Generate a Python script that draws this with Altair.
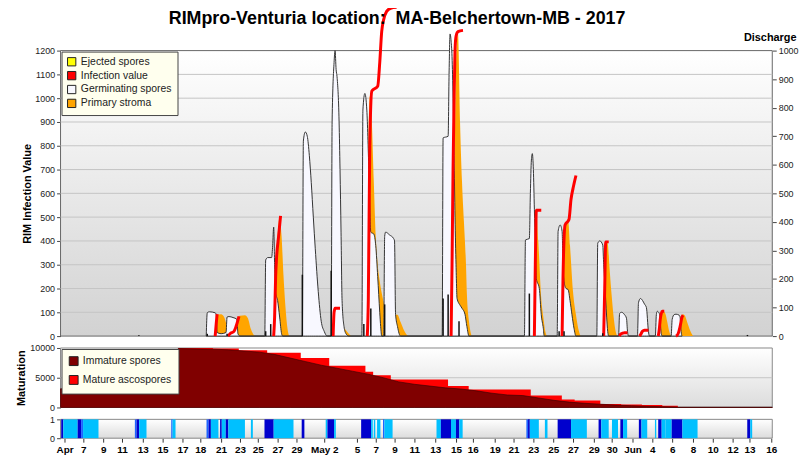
import json
import altair as alt
import pandas as pd

FONT = "Liberation Sans"
W = 718
H_MAIN, H_MAT, H_STRIP = 288, 60, 19
X_MAX = 76.5

# ---------------- main panel data (x = days since start of season) ----------------
germ_day = [15.66, 15.77, 15.98, 16.62, 16.73, 16.83, 17.26, 17.79, 17.90, 18.11, 18.54, 18.96, 19.07, 19.28,
            21.95, 22.05, 22.27, 22.69, 22.80, 22.91, 23.01, 23.12, 23.33, 23.55, 23.76, 23.87,
            25.99, 26.10, 26.31, 26.52, 26.74, 26.95, 27.17, 27.38, 27.70, 28.02, 28.34, 28.66,
            29.09, 29.19, 29.40, 29.51, 29.62, 29.72, 29.94, 30.04, 30.15, 30.26, 30.47, 30.68, 31.00,
            32.39, 32.50, 32.71, 32.92, 33.14, 33.35, 33.67, 33.88, 34.09, 34.31, 34.41, 34.52,
            34.73, 34.84, 34.94, 35.37, 35.80, 35.90, 36.01, 36.22, 36.54,
            41.02, 41.12, 41.66, 41.76, 41.87, 41.98, 42.08, 42.19, 42.30, 42.40, 42.51, 42.62, 42.94, 43.15, 43.47, 43.68, 43.90,
            49.86, 49.97, 50.39, 50.50, 50.61, 50.71, 50.82, 50.93, 51.03, 51.14, 51.46, 51.67, 51.89, 51.99,
            53.38, 53.48, 53.70, 53.91, 54.01, 54.12, 54.33, 54.55, 54.76, 54.97, 55.19, 55.40,
            57.64, 57.74, 57.96, 58.28, 58.38, 58.49, 58.70, 58.81, 58.92,
            59.98, 60.09, 60.30, 60.62, 60.83, 60.94, 61.05,
            62.01, 62.12, 62.33, 62.55, 62.76, 62.97, 63.19, 63.29,
            63.93, 64.04, 64.14, 64.36, 64.46, 64.57, 64.68,
            65.63, 65.74, 65.95, 66.16, 66.48, 66.59, 66.70, 66.80]
germ_val = [0, 98, 102, 98, 90, 15, 10, 15, 80, 82, 78, 70, 10, 0,
            0, 320, 330, 330, 380, 458, 300, 180, 150, 80, 10, 0,
            0, 820, 858, 840, 760, 645, 500, 367, 187, 62, 20, 0,
            0, 900, 1150, 1200, 1120, 1090, 900, 700, 437, 150, 40, 10, 0,
            0, 950, 1020, 950, 700, 437, 429, 380, 250, 100, 40, 0,
            0, 420, 437, 425, 410, 400, 92, 40, 0,
            0, 833, 840, 1100, 1270, 1240, 1175, 1000, 758, 500, 300, 158, 130, 117, 92, 40, 0,
            0, 404, 410, 600, 740, 767, 700, 533, 380, 242, 200, 90, 33, 0,
            0, 440, 467, 440, 300, 229, 200, 196, 150, 90, 33, 0,
            0, 390, 400, 383, 300, 229, 80, 20, 0,
            0, 95, 100, 90, 75, 20, 0,
            0, 140, 158, 150, 135, 120, 20, 0,
            0, 90, 104, 95, 60, 10, 0,
            0, 70, 90, 92, 88, 80, 20, 0]

stroma_day = [16.62, 16.73, 17.26, 17.58, 17.90, 18.22, 18.43, 18.86, 18.96, 19.28, 19.82, 20.14, 20.46, 20.78, 20.99,
              23.01, 23.12, 23.33, 23.55, 23.76, 23.97, 24.18, 24.40, 24.61,
              30.04, 30.15, 30.36, 30.68, 31.11, 31.32,
              32.92, 33.03, 33.24, 33.46, 33.67, 33.88, 34.09, 34.31, 34.63, 34.94, 35.37, 35.80, 36.22, 36.54, 36.97, 37.40,
              42.30, 42.40, 42.62, 42.72, 42.94, 43.15, 43.36, 43.58, 43.68, 43.90, 44.11, 44.21,
              50.93, 51.03, 51.14, 51.35, 51.67, 51.89, 52.10, 52.31,
              54.01, 54.12, 54.33, 54.55, 54.76, 55.08, 55.40, 55.72, 55.93,
              58.49, 58.60, 58.81, 59.02, 59.24, 59.45, 59.66, 59.88,
              64.46, 64.57, 64.78, 65.00, 65.21, 65.42, 65.64,
              66.59, 66.70, 66.91, 67.12, 67.34, 67.66, 67.98]
stroma_val = [0, 88, 92, 80, 40, 5, 0, 0, 70, 85, 88, 75, 30, 5, 0,
              0, 300, 420, 500, 420, 250, 120, 30, 0,
              0, 60, 40, 25, 5, 0,
              0, 600, 1008, 900, 650, 420, 300, 230, 160, 110, 95, 90, 90, 60, 20, 0,
              0, 700, 1250, 1270, 900, 650, 480, 300, 175, 62, 10, 0,
              0, 450, 529, 400, 158, 80, 20, 0,
              0, 350, 470, 492, 380, 188, 90, 20, 0,
              0, 396, 390, 280, 170, 80, 20, 0,
              0, 90, 104, 95, 60, 20, 0,
              0, 80, 92, 85, 60, 25, 0]

infect_day = [16.62, 16.73, 16.83,
              18.00, 18.22, 18.64, 18.86, 19.18,
              22.91, 23.01, 23.12, 23.22, 23.44, 23.65,
              29.30, 29.40, 29.51, 30.04,
              32.97, 33.08, 33.24, 33.46, 34.09, 34.31, 34.52, 34.73, 35.05, 35.48, 36.12,
              41.98, 42.08, 42.19, 42.30, 42.40, 42.51, 42.72, 43.26,
              50.93, 51.03, 51.14, 51.67,
              53.91, 54.01, 54.23, 54.65, 54.87, 55.08, 55.19, 55.40,
              58.38, 58.49, 58.60, 58.92,
              60.09, 60.19, 60.41, 60.62, 60.94,
              62.23, 62.33, 62.55, 62.76, 63.19,
              64.25, 64.36, 64.46, 64.57, 64.68, 64.89,
              66.16, 66.38, 66.59, 66.80, 66.91]
infect_val = [0, 50, 92,
              0, 10, 20, 40, 83,
              0, 80, 250, 330, 420, 505,
              0, 100, 117, 117,
              0, 150, 800, 1030, 1050, 1150, 1280, 1330, 1365, 1378, 1382,
              0, 300, 700, 1000, 1200, 1260, 1280, 1285,
              0, 300, 529, 529,
              0, 250, 467, 490, 575, 620, 640, 675,
              0, 200, 396, 396,
              0, 8, 12, 14, 14,
              0, 5, 20, 25, 25,
              0, 30, 70, 95, 104, 104,
              0, 10, 40, 80, 88]
infect_seg = [1] * 3 + [2] * 5 + [3] * 6 + [4] * 4 + [5] * 11 + [6] * 8 + [7] * 4 + [8] * 8 + \
             [9] * 4 + [10] * 5 + [11] * 5 + [12] * 6 + [13] * 5

eject_day = [8.42, 15.77, 17.90, 22.05, 22.59, 25.99, 29.09, 32.60, 33.35, 34.84, 41.12, 41.66, 42.83,
             50.39, 53.59, 54.12, 58.28, 73.83]
eject_val = [3, 8, 8, 17, 42, 215, 229, 42, 97, 111, 132, 146, 52, 149, 17, 17, 10, 4]

series_names = ["Ejected spores", "Infection value", "Germinating spores", "Primary stroma"]
series_colors = ["#ffff00", "#ff0000", "#f8f8ff", "#ffa500"]

# ---------------- maturation panel ----------------
imm_day = [0, 12.64, 12.65, 16.38, 18.04, 19.71, 21.37, 23.04, 24.71, 26.37, 28.04, 29.70, 31.36, 33.04,
           34.70, 36.36, 38.03, 39.70, 41.36, 43.03, 44.69, 46.36, 48.03, 49.69, 51.36, 53.03, 54.69,
           56.36, 58.02, 59.69, 61.36, 63.02, 64.68, 66.35, 76.5]
imm_val = [3150, 3150, 9900, 9800, 9700, 9500, 9300, 8900, 8300, 7700, 7100, 6600, 6100, 5600,
           5000, 4300, 3900, 3600, 3300, 3100, 2800, 2400, 2100, 2000, 1600, 1200, 900,
           700, 550, 400, 300, 200, 130, 70, 70]
tot_day = [0, 12.65, 16.38, 19.16, 22.21, 25.82, 28.88, 32.77, 33.60, 35.50, 41.65, 43.87, 50.54,
           53.88, 55.26, 58.02, 60.26, 62.49, 64.68, 66.35, 76.5]
tot_val = [3150, 10000, 9900, 9600, 9200, 8300, 7000, 6000, 5400, 4700, 3600, 3000, 2000,
           1350, 1150, 600, 500, 400, 280, 70, 70]

# ---------------- wetness strip ----------------
strip_start = [0.07, 0.29, 1.84, 2.21, 2.42, 7.99, 8.17, 8.45, 11.90, 12.04, 15.69, 15.91, 16.16, 17.15, 17.33,
               17.76, 18.04, 20.46, 21.92, 22.91, 25.92, 28.50, 28.69, 29.40, 32.31, 33.38, 33.67, 34.02,
               34.66, 34.81, 40.41, 40.88, 41.97, 42.50, 42.86, 50.07, 50.25, 50.44, 52.06, 53.43, 54.87,
               57.83, 58.12, 59.27, 60.17, 60.46, 62.16, 62.44, 63.89, 64.24, 64.61, 65.04, 65.69, 66.84,
               73.81, 74.13]
strip_end = [0.29, 1.84, 2.21, 2.42, 4.08, 8.17, 8.45, 9.24, 12.04, 12.36, 15.91, 16.16, 16.97, 17.33, 17.76,
             18.04, 19.82, 20.67, 22.91, 25.04, 26.21, 28.69, 29.40, 29.59, 33.38, 33.56, 33.83, 34.38,
             34.81, 35.69, 40.88, 41.97, 42.50, 42.86, 43.22, 50.25, 50.44, 51.41, 52.34, 54.87, 56.57,
             58.12, 58.92, 59.92, 60.46, 60.90, 62.44, 63.06, 64.03, 64.61, 65.04, 65.69, 66.84, 68.47,
             74.13, 74.34]
strip_kind = ["dark", "light", "dark", "medium", "light", "medium", "dark", "light", "medium", "light",
              "medium", "dark", "light", "dark", "light", "dark", "light", "light", "dark", "light",
              "dark", "light", "dark", "light", "dark", "light", "light", "light", "medium", "light",
              "light", "dark", "light", "dark", "light", "medium", "dark", "light", "light", "dark",
              "light", "dark", "light", "light", "dark", "light", "dark", "light", "light", "dark",
              "light", "light", "dark", "light", "dark", "light"]

tick_labels = ["Apr", "7", "9", "11", "13", "15", "17", "18", "21", "23", "25", "27", "29", "May 2",
               "5", "7", "9", "11", "13", "15", "16", "19", "21", "23", "25", "27", "29", "30", "Jun",
               "4", "6", "8", "10", "12", "13", "16"]
tick_pos = [0.43, 2.45, 4.58, 6.61, 8.84, 10.97, 13.10, 15.02, 17.26, 19.28, 21.20, 23.33, 25.36, 28.34,
            31.86, 33.88, 35.90, 38.03, 40.27, 42.51, 44.32, 46.66, 48.69, 50.82, 52.95, 55.08, 57.32,
            59.24, 61.48, 63.61, 65.74, 67.98, 70.11, 72.24, 74.05, 76.39]

# ---------------- frames ----------------
df_germ = pd.DataFrame({"day": germ_day, "val": germ_val, "series": "Germinating spores"})
df_strom = pd.DataFrame({"day": stroma_day, "val": stroma_val, "series": "Primary stroma"})
df_inf = pd.DataFrame({"day": infect_day, "val": infect_val, "seg": infect_seg})
df_ej = pd.DataFrame({"day": eject_day, "val": eject_val})
df_imm = pd.DataFrame({"day": imm_day, "val": imm_val, "series": "Immature spores"})
df_tot = pd.DataFrame({"day": tot_day, "val": tot_val, "series": "Mature ascospores"})
df_strip = pd.DataFrame({"s": strip_start, "e": strip_end, "kind": strip_kind, "lo": 0, "hi": 1})
one = pd.DataFrame({"k": [0]})

xsc = alt.Scale(domain=[0, X_MAX], nice=False, zero=False)
xm = alt.X("day:Q", scale=xsc, axis=None)


def grad(bottom):
    return {"gradient": "linear", "x1": 0, "y1": 0, "x2": 0, "y2": 1,
            "stops": [{"offset": 0, "color": "#ffffff"}, {"offset": 1, "color": bottom}]}


def bg(h, bottom, stroke):
    return alt.Chart(one).mark_rect(fill=grad(bottom), stroke=stroke, strokeWidth=1).encode(
        x=alt.value(0), x2=alt.value(W), y=alt.value(0), y2=alt.value(h))


lab = dict(labelFont=FONT, labelFontSize=9, labelColor="#222", tickColor="#444", tickSize=4,
           labelPadding=2, domain=False, grid=False)
ttl = dict(titleFont=FONT, titleFontSize=11, titleFontWeight="bold", titleColor="#000")

ysc = alt.Scale(domain=[0, 1200], nice=False)
yax = alt.Axis(values=list(range(0, 1201, 100)), format="d", title="RIM Infection Value",
               titlePadding=2, **lab, **ttl)


def yl(f):
    return alt.Y(f, type="quantitative", scale=ysc, axis=yax)


leg_main = alt.Legend(orient="none", legendX=1, legendY=1, title=None, fillColor="#ffffee",
                      strokeColor="#444", padding=5, symbolType="square", symbolSize=70,
                      symbolStrokeColor="#222", symbolStrokeWidth=1, labelFont=FONT, labelFontSize=10.5,
                      labelColor="#222", rowPadding=1)
col = alt.Color("series:N", scale=alt.Scale(domain=series_names, range=series_colors), legend=leg_main)

grid = alt.Chart(pd.DataFrame({"g": list(range(100, 1200, 100))})).mark_rule(
    color="#c4c4c4", strokeWidth=1).encode(y=yl("g"))
stroma = alt.Chart(df_strom).mark_area(interpolate="monotone").encode(x=xm, y=yl("val"), color=col)
germ = alt.Chart(df_germ).mark_area(interpolate="monotone", stroke="#333", strokeWidth=1).encode(
    x=xm, y=yl("val"), color=col)
red = alt.Chart(df_inf).mark_line(color="#ff0000", strokeWidth=3, interpolate="monotone").encode(
    x=xm, y=yl("val"), detail="seg:N")
left = alt.layer(bg(H_MAIN, "#d2d2d2", "#666"), grid, stroma, germ, red)

rax = alt.Axis(orient="right", values=list(range(0, 1001, 100)), format="d", title="Discharge",
               titleAngle=0, titleAlign="right", titleBaseline="bottom", titleX=24, titleY=-8,
               **lab, **ttl)
spikes = alt.Chart(df_ej).mark_rule(color="#111", strokeWidth=1.5).encode(
    x=xm, y=alt.Y("val:Q", scale=alt.Scale(domain=[0, 1000], nice=False), axis=rax), y2=alt.datum(0))

main = alt.layer(left, spikes).resolve_scale(y="independent").properties(width=W, height=H_MAIN)

# maturation
msc = alt.Scale(domain=[0, 10000], nice=False)
max_ = alt.Axis(values=[0, 5000, 10000], format="d", title="Maturation", titlePadding=3, **lab, **ttl)
leg_mat = alt.Legend(orient="none", legendX=1, legendY=1, title=None, fillColor="#ffffee",
                     strokeColor="#444", padding=7, symbolType="square", symbolSize=80,
                     symbolStrokeColor="#222", symbolStrokeWidth=1, labelFont=FONT, labelFontSize=10.5,
                     labelColor="#222", rowPadding=5)
mcol = alt.Color("series:N", scale=alt.Scale(domain=["Immature spores", "Mature ascospores"],
                                             range=["#800000", "#ff0000"]), legend=leg_mat)
mgrid = alt.Chart(pd.DataFrame({"g": [5000]})).mark_rule(color="#c4c4c4").encode(
    y=alt.Y("g:Q", scale=msc, axis=max_))
tot = alt.Chart(df_tot).mark_area(interpolate="step-after").encode(
    x=xm, y=alt.Y("val:Q", scale=msc, axis=max_), color=mcol)
imm = alt.Chart(df_imm).mark_area(stroke="#300000", strokeWidth=0.6).encode(
    x=xm, y=alt.Y("val:Q", scale=msc, axis=max_), color=mcol)
mat = alt.layer(bg(H_MAT, "#dcdcdc", "#888"), mgrid, tot, imm).properties(width=W, height=H_MAT)

# strip
label_expr = f"{json.dumps(tick_labels)}[indexof({json.dumps(tick_pos)}, datum.value)]"
xax = alt.Axis(values=tick_pos, labelExpr=label_expr, labelFont=FONT, labelFontSize=10,
               labelFontWeight="bold", labelColor="#000", labelOverlap=False, labelFlush=False,
               tickColor="#333", tickSize=4, labelPadding=2, domain=False, grid=False, title=None)
rects = alt.Chart(df_strip).mark_rect().encode(
    x=alt.X("s:Q", scale=xsc, axis=xax), x2="e:Q",
    y=alt.Y("hi:Q", scale=alt.Scale(domain=[0, 1], nice=False),
            axis=alt.Axis(values=[0, 1], format="d", title=None, **lab)), y2="lo:Q",
    color=alt.Color("kind:N", scale=alt.Scale(domain=["light", "dark", "medium"],
                                              range=["#00c0ff", "#0000cd", "#1e64ff"]), legend=None))
strip = alt.layer(bg(H_STRIP, "#dcdcdc", "#888"), rects).properties(width=W, height=H_STRIP)

chart = alt.vconcat(main, mat, strip, spacing=12, bounds="flush").resolve_scale(color="independent").properties(
    title=alt.TitleParams("RIMpro-Venturia location:\u00a0 MA-Belchertown-MB - 2017", font=FONT, fontSize=18,
                          fontWeight="bold", color="#000", anchor="middle", offset=-27, dx=-10),
    padding={"left": 7, "top": -9, "right": 4, "bottom": 2},
).configure_view(stroke=None)

chart.save("out.html", embed_options={"renderer": "svg", "actions": False})
